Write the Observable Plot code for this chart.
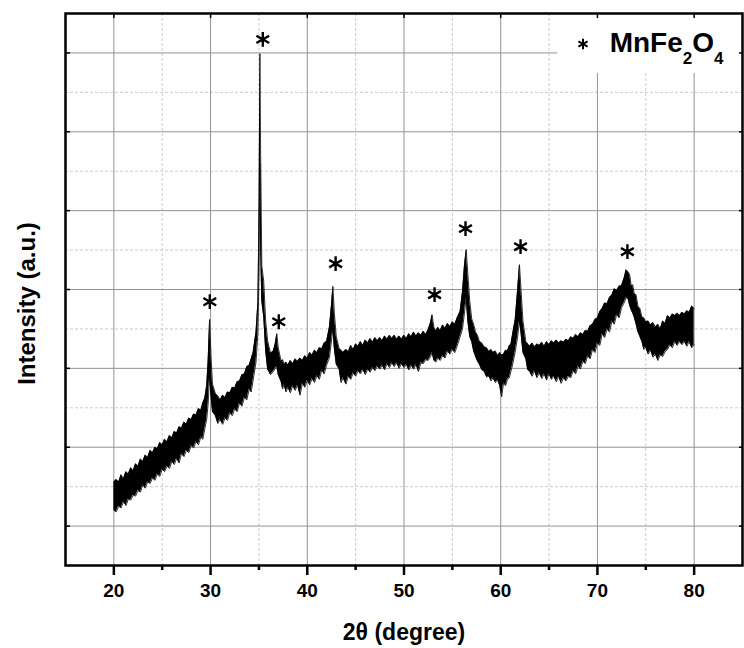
<!DOCTYPE html>
<html><head><meta charset="utf-8">
<script src="https://cdn.jsdelivr.net/npm/d3@7"></script>
<script src="https://cdn.jsdelivr.net/npm/@observablehq/plot@0.6"></script>
<style>body{margin:0;background:#fff}</style>
</head><body><div id="chart"></div>
<script>
// XRD scan: [2θ (deg), lower edge of noisy trace, upper edge] in a.u.
const scanRows = [
[20.0,1200,1560],[20.25,1180,1590],[20.5,1250,1560],[20.75,1230,1650],[21.0,1310,1600],[21.25,1260,1690],
[21.5,1340,1660],[21.75,1330,1740],[22.0,1390,1700],[22.25,1380,1790],[22.5,1450,1760],[22.75,1430,1850],
[23.0,1520,1820],[23.25,1480,1900],[23.5,1560,1870],[23.75,1540,1960],[24.0,1610,1930],[24.25,1580,2000],
[24.5,1660,1980],[24.75,1630,2060],[25.0,1720,2030],[25.25,1690,2100],[25.5,1760,2070],[25.75,1730,2150],
[26.0,1820,2120],[26.25,1780,2200],[26.5,1860,2180],[26.75,1800,2260],[27.0,1920,2240],[27.25,1880,2320],
[27.5,1960,2290],[27.75,1930,2370],[28.0,2020,2350],[28.25,1990,2420],[28.5,2070,2410],[28.75,2030,2490],
[29.0,2130,2470],[29.2,2100,2560],[29.4,2230,2620],[29.6,2350,2780],[29.75,2550,3100],[29.9,2900,3620],
[30.05,2650,3150],[30.2,2450,2800],[30.5,2400,2680],[30.75,2300,2650],[31.0,2350,2600],[31.25,2290,2660],
[31.5,2370,2630],[31.75,2340,2700],[32.0,2440,2690],[32.25,2400,2760],[32.5,2490,2750],[32.75,2450,2830],
[33.0,2560,2840],[33.25,2520,2920],[33.5,2630,2930],[33.75,2600,3020],[34.0,2740,3040],[34.2,2700,3120],
[34.4,2850,3200],[34.7,3080,3460],[34.9,3450,3850],[35.02,4300,5100],[35.1,5600,6990],[35.18,4500,5700],
[35.3,3850,4300],[35.5,3650,4100],[35.7,3220,3600],[35.9,2990,3350],[36.2,2920,3190],[36.5,2960,3220],
[36.7,3000,3320],[36.85,3020,3440],[37.0,2920,3260],[37.3,2830,3090],[37.45,2740,3110],[37.6,2800,3050],
[37.8,2700,3080],[38.0,2760,3040],[38.25,2690,3100],[38.5,2780,3060],[38.75,2720,3120],[39.0,2790,3090],
[39.25,2660,3130],[39.5,2810,3100],[39.75,2760,3160],[40.0,2850,3130],[40.25,2790,3200],[40.5,2870,3170],
[40.75,2820,3230],[41.0,2910,3200],[41.25,2860,3260],[41.5,2980,3250],[41.75,2930,3320],[42.0,3040,3340],
[42.3,3140,3530],[42.5,3350,3800],[42.65,3500,4040],[42.8,3250,3700],[43.0,3050,3400],[43.3,2990,3250],
[43.5,2820,3230],[43.7,2880,3200],[44.0,2800,3240],[44.25,2900,3210],[44.5,2860,3290],[44.75,2940,3240],
[45.0,2900,3310],[45.25,2970,3280],[45.5,2930,3340],[45.75,2990,3290],[46.0,2920,3360],[46.25,2990,3320],
[46.5,2950,3380],[46.75,3010,3330],[47.0,2970,3390],[47.25,3030,3350],[47.5,2990,3390],[47.75,3040,3350],
[48.0,2980,3410],[48.25,3060,3370],[48.5,3010,3420],[48.75,3070,3380],[49.0,3020,3420],[49.25,3070,3370],
[49.5,3000,3410],[49.75,3060,3370],[50.0,3010,3420],[50.25,3050,3380],[50.5,2980,3440],[50.75,3040,3400],
[51.0,2990,3460],[51.25,3050,3410],[51.5,2960,3450],[51.75,3070,3420],[52.0,3060,3470],[52.25,3110,3430],
[52.5,3100,3490],[52.75,3150,3580],[52.9,3200,3680],[53.1,3100,3520],[53.3,3080,3470],[53.5,3130,3520],
[53.75,3100,3480],[54.0,3160,3550],[54.25,3130,3510],[54.5,3220,3570],[54.75,3180,3530],[55.0,3240,3590],
[55.25,3200,3560],[55.5,3280,3640],[55.8,3400,3720],[56.05,3500,3970],[56.25,3700,4300],[56.43,3900,4505],
[56.6,3600,4200],[56.8,3400,3850],[57.0,3340,3630],[57.2,3220,3560],[57.4,3150,3460],[57.6,3090,3420],
[57.8,3050,3340],[58.05,2980,3320],[58.3,2960,3270],[58.55,2890,3260],[58.8,2900,3210],[59.0,2840,3240],
[59.2,2880,3200],[59.45,2820,3220],[59.7,2850,3160],[59.9,2780,3200],[60.1,2640,3170],[60.3,2820,3180],
[60.5,2780,3230],[60.7,2860,3220],[60.9,2880,3290],[61.05,2960,3300],[61.2,3030,3410],[61.5,3210,3620],
[61.75,3400,4000],[61.94,3600,4315],[62.1,3450,4000],[62.3,3200,3600],[62.6,3120,3340],[62.8,2980,3310],
[63.0,2960,3280],[63.25,2900,3320],[63.5,2970,3270],[63.75,2880,3310],[64.0,2940,3290],[64.25,2870,3330],
[64.5,2930,3280],[64.75,2850,3340],[65.0,2930,3300],[65.25,2860,3350],[65.5,2900,3320],[65.75,2830,3360],
[66.0,2900,3320],[66.25,2810,3350],[66.5,2880,3330],[66.75,2840,3370],[67.0,2900,3350],[67.25,2880,3400],
[67.5,2970,3380],[67.75,2930,3430],[68.0,3030,3400],[68.25,2990,3450],[68.5,3090,3430],[68.75,3060,3480],
[69.0,3160,3470],[69.25,3120,3540],[69.5,3240,3560],[69.75,3200,3620],[70.0,3320,3640],[70.25,3290,3720],
[70.5,3440,3760],[70.75,3390,3830],[71.0,3500,3820],[71.25,3460,3900],[71.5,3600,3930],[71.75,3560,4010],
[72.0,3690,3990],[72.25,3640,4040],[72.5,3770,4050],[72.8,3840,4160],[72.96,3900,4250],[73.2,3870,4220],
[73.35,3790,4180],[73.5,3740,4040],[73.65,3700,4060],[73.8,3650,3950],[74.0,3560,3930],[74.2,3460,3780],
[74.4,3400,3760],[74.6,3340,3650],[74.8,3240,3640],[75.0,3270,3590],[75.25,3180,3600],[75.5,3230,3550],
[75.75,3140,3580],[76.0,3180,3520],[76.25,3100,3560],[76.5,3170,3500],[76.75,3150,3600],[77.0,3210,3570],
[77.25,3240,3670],[77.5,3300,3640],[77.75,3260,3690],[78.0,3340,3670],[78.25,3290,3700],[78.5,3340,3670],
[78.75,3300,3710],[79.0,3340,3690],[79.25,3280,3730],[79.5,3340,3710],[79.75,3260,3790],[80.0,3300,3760]
];

// MnFe2O4 reflections marked with asterisks
const peakTheta = [29.92, 35.4, 37.05, 42.93, 53.16, 56.36, 62.05, 73.1];
const peakMarkI = [3845, 7172, 3591, 4327, 3934, 4772, 4543, 4480];

const xMajor = [20, 30, 40, 50, 60, 70, 80];
const xMinor = [25, 35, 45, 55, 65, 75];
const yMajor = [1000, 2000, 3000, 4000, 5000, 6000, 7000];
const yMinor = [1500, 2500, 3500, 4500, 5500, 6500];
const legendLabel = "MnFe2O4";
const legendBox = [{x1: 65.9, x2: 85, y1: 6740, y2: 7500}];

const scan = scanRows.map(([t, lo, hi]) => ({t, lo, hi}));
const stars = peakTheta.map((t, i) => ({t, v: peakMarkI[i]}));

const plot = Plot.plot({
  width: 744, height: 648,
  marginTop: 13, marginRight: 2, marginBottom: 83, marginLeft: 65,
  x: {domain: [15, 85]},
  y: {domain: [500, 7500]},
  style: {fontFamily: "'Liberation Sans', Arial, sans-serif", fontWeight: "bold", fontSize: "19px", background: "#fff", color: "#000", overflow: "visible"},
  marks: [
    Plot.gridX(xMinor, {stroke: "#cccccc", strokeOpacity: 1, strokeDasharray: "3,2"}),
    Plot.gridY(yMinor, {stroke: "#cccccc", strokeOpacity: 1, strokeDasharray: "3,2"}),
    Plot.gridX(xMajor, {stroke: "#939393", strokeOpacity: 1}),
    Plot.gridY(yMajor, {stroke: "#939393", strokeOpacity: 1}),
    Plot.rect(legendBox, {x1: "x1", x2: "x2", y1: "y1", y2: "y2", fill: "white"}),
    Plot.areaY(scan, {x: "t", y1: "lo", y2: "hi", fill: "black"}),
    Plot.line(scan, {x: "t", y: "hi", stroke: "black", strokeWidth: 0.8}),
    Plot.line(scan, {x: "t", y: "lo", stroke: "black", strokeWidth: 0.8}),
    Plot.dot(stars, {x: "t", y: "v", symbol: "asterisk", r: 7, stroke: "black", strokeWidth: 2.4}),
    Plot.dot([0], {frameAnchor: "top-right", dx: -159.5, dy: 30.5, symbol: "asterisk", r: 5, stroke: "black", strokeWidth: 2}),
    Plot.text([legendLabel], {frameAnchor: "top-right", dx: -19, dy: 30, textAnchor: "end", lineAnchor: "middle", fontSize: 28, fontWeight: "bold"}),
    Plot.frame({stroke: "black", strokeWidth: 2.5}),
    Plot.axisX(xMajor, {anchor: "bottom", tickSize: 10, tickPadding: 8, strokeWidth: 2.5, label: null, fontSize: 19}),
    Plot.axisX(xMinor, {anchor: "bottom", tickSize: 5, strokeWidth: 2.5, tickFormat: () => "", label: null}),
    Plot.axisX(xMajor, {anchor: "top", tickSize: -4, strokeWidth: 1.5, tickFormat: () => "", label: null}),
    Plot.axisY(yMajor, {anchor: "left", tickSize: -5, strokeWidth: 1.5, tickFormat: () => "", label: null}),
    Plot.axisY(yMajor, {anchor: "right", tickSize: -4, strokeWidth: 1.5, tickFormat: () => "", label: null}),
    Plot.text(["2θ (degree)"], {frameAnchor: "bottom", dy: 67, lineAnchor: "middle", textAnchor: "middle", fontSize: 23, fontWeight: "bold"}),
    Plot.text(["Intensity (a.u.)"], {frameAnchor: "left", dx: -38, dy: 14, rotate: -90, textAnchor: "middle", lineAnchor: "middle", fontSize: 24, fontWeight: "bold"})
  ]
});

// chemical formula subscripts in the legend
const ns = "http://www.w3.org/2000/svg";
const lt = Array.from(plot.querySelectorAll("text")).find(e => e.textContent === legendLabel);
if (lt) {
  lt.textContent = "";
  [["MnFe", null, 28], ["2", 12, 17], ["O", -12, 28], ["4", 12, 17]].forEach(([s, dy, fs]) => {
    const sp = document.createElementNS(ns, "tspan");
    if (dy !== null) sp.setAttribute("dy", dy);
    sp.setAttribute("font-size", fs);
    sp.textContent = s;
    lt.appendChild(sp);
  });
}
document.getElementById("chart").appendChild(plot);
</script>
</body></html>
